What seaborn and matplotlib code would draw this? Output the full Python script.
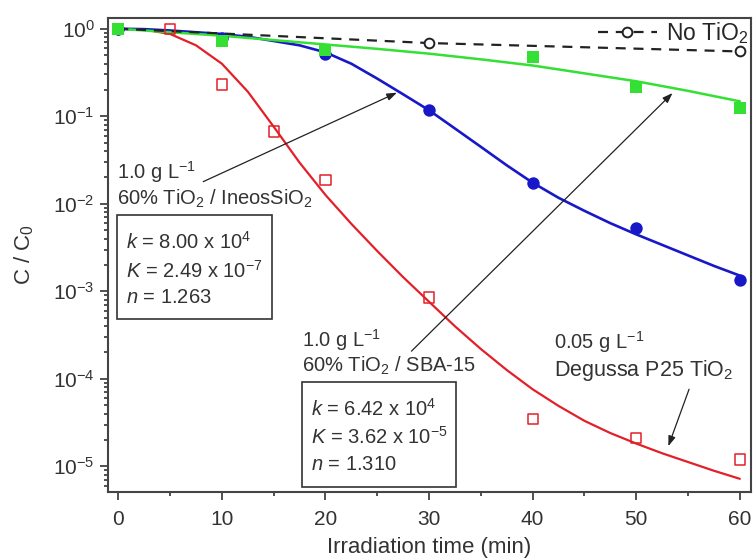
import matplotlib
matplotlib.use('Agg')
import matplotlib.pyplot as plt
from matplotlib.patches import Rectangle
from matplotlib.ticker import MultipleLocator, LogLocator, NullFormatter
import seaborn as sns

# measured points, C / C0 against irradiation time (min)
green_t = [0, 10, 20, 40, 50, 60]
green_c = [1.0, 0.72, 0.575, 0.47, 0.215, 0.125]

blue_t = [0, 10, 20, 30, 40, 50, 60]
blue_c = [1.0, 0.78, 0.51, 0.117, 0.0173, 0.0053, 0.00136]

red_t = [0, 5, 10, 15, 20, 30, 40, 50, 60]
red_c = [1.0, 1.0, 0.23, 0.067, 0.0186, 8.5e-4, 3.5e-5, 2.1e-5, 1.2e-5]

ctrl_t = [0, 30, 60]
ctrl_c = [1.0, 0.686, 0.55]

# fitted curves
fit_t = [0, 2.5, 5, 7.5, 10, 12.5, 15, 17.5, 20, 22.5, 25, 27.5, 30,
         32.5, 35, 37.5, 40, 42.5, 45, 47.5, 50, 52.5, 55, 57.5, 60]
red_fit = [1.0, 0.977, 0.871, 0.646, 0.398, 0.191, 0.0759, 0.0295, 0.0126,
           0.00589, 0.00288, 0.00145, 7.59e-4, 3.98e-4, 2.19e-4, 1.26e-4,
           7.59e-5, 4.9e-5, 3.31e-5, 2.4e-5, 1.82e-5, 1.41e-5, 1.12e-5,
           8.9e-6, 7.2e-6]
blue_fit = [1.0, 0.989, 0.955, 0.912, 0.871, 0.81, 0.724, 0.646, 0.537,
            0.398, 0.269, 0.178, 0.117, 0.0724, 0.0447, 0.0275, 0.0174,
            0.0117, 0.0083, 0.0060, 0.00447, 0.00339, 0.00257, 0.00195,
            0.00151]
green_fit_t = [0, 5, 10, 15, 20, 25, 30, 35, 40, 45, 50, 55, 60]
green_fit = [1.0, 0.912, 0.832, 0.741, 0.661, 0.589, 0.519, 0.447, 0.380,
             0.309, 0.251, 0.195, 0.148]

RED = '#e3202a'
BLUE = '#1818c8'
GREEN = '#33e033'
INK = '#333333'

sns.set_theme(style='ticks')
plt.rcParams['font.family'] = ['Liberation Sans', 'DejaVu Sans']
plt.rcParams['mathtext.fontset'] = 'custom'
plt.rcParams['mathtext.rm'] = 'Liberation Sans'
plt.rcParams['mathtext.it'] = 'Liberation Sans:italic'
plt.rcParams['mathtext.bf'] = 'Liberation Sans:bold'

fig, ax = plt.subplots(figsize=(7.55, 5.59), dpi=100)
fig.subplots_adjust(left=0.143, right=0.995, bottom=0.12, top=0.968)
ax.set_yscale('log')

# fits
sns.lineplot(x=fit_t, y=red_fit, color=RED, lw=1.6, ax=ax)
sns.lineplot(x=fit_t, y=blue_fit, color=BLUE, lw=1.9, ax=ax)
sns.lineplot(x=green_fit_t, y=green_fit, color=GREEN, lw=1.8, ax=ax)

# no catalyst control
sns.lineplot(x=ctrl_t, y=ctrl_c, color='#222222', lw=1.6,
             linestyle=(0, (4.5, 3.5)), marker='o', markersize=7,
             markerfacecolor='white', markeredgecolor='#222222',
             markeredgewidth=1.4, ax=ax)
ctrl_line = ax.lines[-1]

# data points
sns.scatterplot(x=red_t, y=red_c, marker='s', s=55, facecolor='none',
                edgecolor=RED, linewidth=1.1, zorder=4, ax=ax)
sns.scatterplot(x=blue_t, y=blue_c, marker='o', s=80, color=BLUE,
                edgecolor=BLUE, linewidth=0, zorder=4, ax=ax)
sns.scatterplot(x=green_t, y=green_c, marker='s', s=70, color=GREEN,
                edgecolor=GREEN, linewidth=0, zorder=5, ax=ax)

ax.set_xlim(-1, 61.1)
ax.set_ylim(5.1e-6, 1.33)
ax.xaxis.set_major_locator(MultipleLocator(10))
ax.xaxis.set_minor_locator(MultipleLocator(5))
ax.yaxis.set_major_locator(LogLocator(base=10, numticks=10))
ax.yaxis.set_minor_locator(LogLocator(base=10, subs=range(2, 10), numticks=20))
ax.yaxis.set_minor_formatter(NullFormatter())
ax.tick_params(which='both', direction='out', top=False, right=False,
               labelsize=15, colors=INK, width=1.2)
ax.tick_params(which='major', length=6)
ax.tick_params(which='minor', length=3)
ax.tick_params(axis='x', which='major', pad=7)
for sp in ax.spines.values():
    sp.set_visible(True)
    sp.set_color('#444444')
    sp.set_linewidth(1.5)

ax.set_xlabel('Irradiation time (min)', fontsize=16, color=INK, labelpad=6)
ax.set_ylabel('C / C$_0$', fontsize=16, color=INK, labelpad=12)

ax.legend(handles=[ctrl_line], labels=['No TiO$_2$'], loc='upper right',
          frameon=False, fontsize=16.5, handlelength=2.6, handletextpad=0.4,
          borderaxespad=0.0, borderpad=0.1)

txt = dict(fontsize=14.5, color=INK, va='center', ha='left')

# IneosSiO2 label and box
ax.text(-0.1, 0.0233, '1.0 g L$^{-1}$', **txt)
ax.text(-0.1, 0.0114, '60% TiO$_2$ / IneosSiO$_2$', **txt)
ax.add_patch(Rectangle((-0.1, 4.8e-4), 14.9, 7.5e-3 - 4.8e-4, fill=False,
                       ec=INK, lw=1.2, zorder=6))
ax.text(0.7, 3.7e-3, '$k$ = 8.00 x 10$^{4}$', **txt)
ax.text(0.7, 1.73e-3, '$K$ = 2.49 x 10$^{-7}$', **txt)
ax.text(0.7, 8.5e-4, '$n$ = 1.263', **txt)

# SBA-15 label and box
ax.text(17.7, 2.8e-4, '1.0 g L$^{-1}$', **txt)
ax.text(17.7, 1.42e-4, '60% TiO$_2$ / SBA-15', **txt)
ax.add_patch(Rectangle((17.7, 5.8e-6), 14.9, 9.1e-5 - 5.8e-6, fill=False,
                       ec=INK, lw=1.2, zorder=6))
ax.text(18.6, 4.5e-5, '$k$ = 6.42 x 10$^{4}$', **txt)
ax.text(18.6, 2.2e-5, '$K$ = 3.62 x 10$^{-5}$', **txt)
ax.text(18.6, 1.05e-5, '$n$ = 1.310', **txt)

# P25 label
ax.text(42.1, 2.6e-4, '0.05 g L$^{-1}$', **txt)
ax.text(42.1, 1.25e-4, 'Degussa P25 TiO$_2$', **dict(txt, fontsize=15.5))

arrow = dict(arrowstyle='-|>,head_length=0.5,head_width=0.18', color='#222222',
             lw=0.9, shrinkA=0, shrinkB=0)
ax.annotate('', xy=(26.9, 0.186), xytext=(8.2, 0.0179), arrowprops=arrow)
ax.annotate('', xy=(53.5, 0.184), xytext=(28.3, 2.07e-4), arrowprops=arrow)
ax.annotate('', xy=(53.1, 1.7e-5), xytext=(55.1, 7.6e-5), arrowprops=arrow)

fig.savefig('out.png', dpi=100)
